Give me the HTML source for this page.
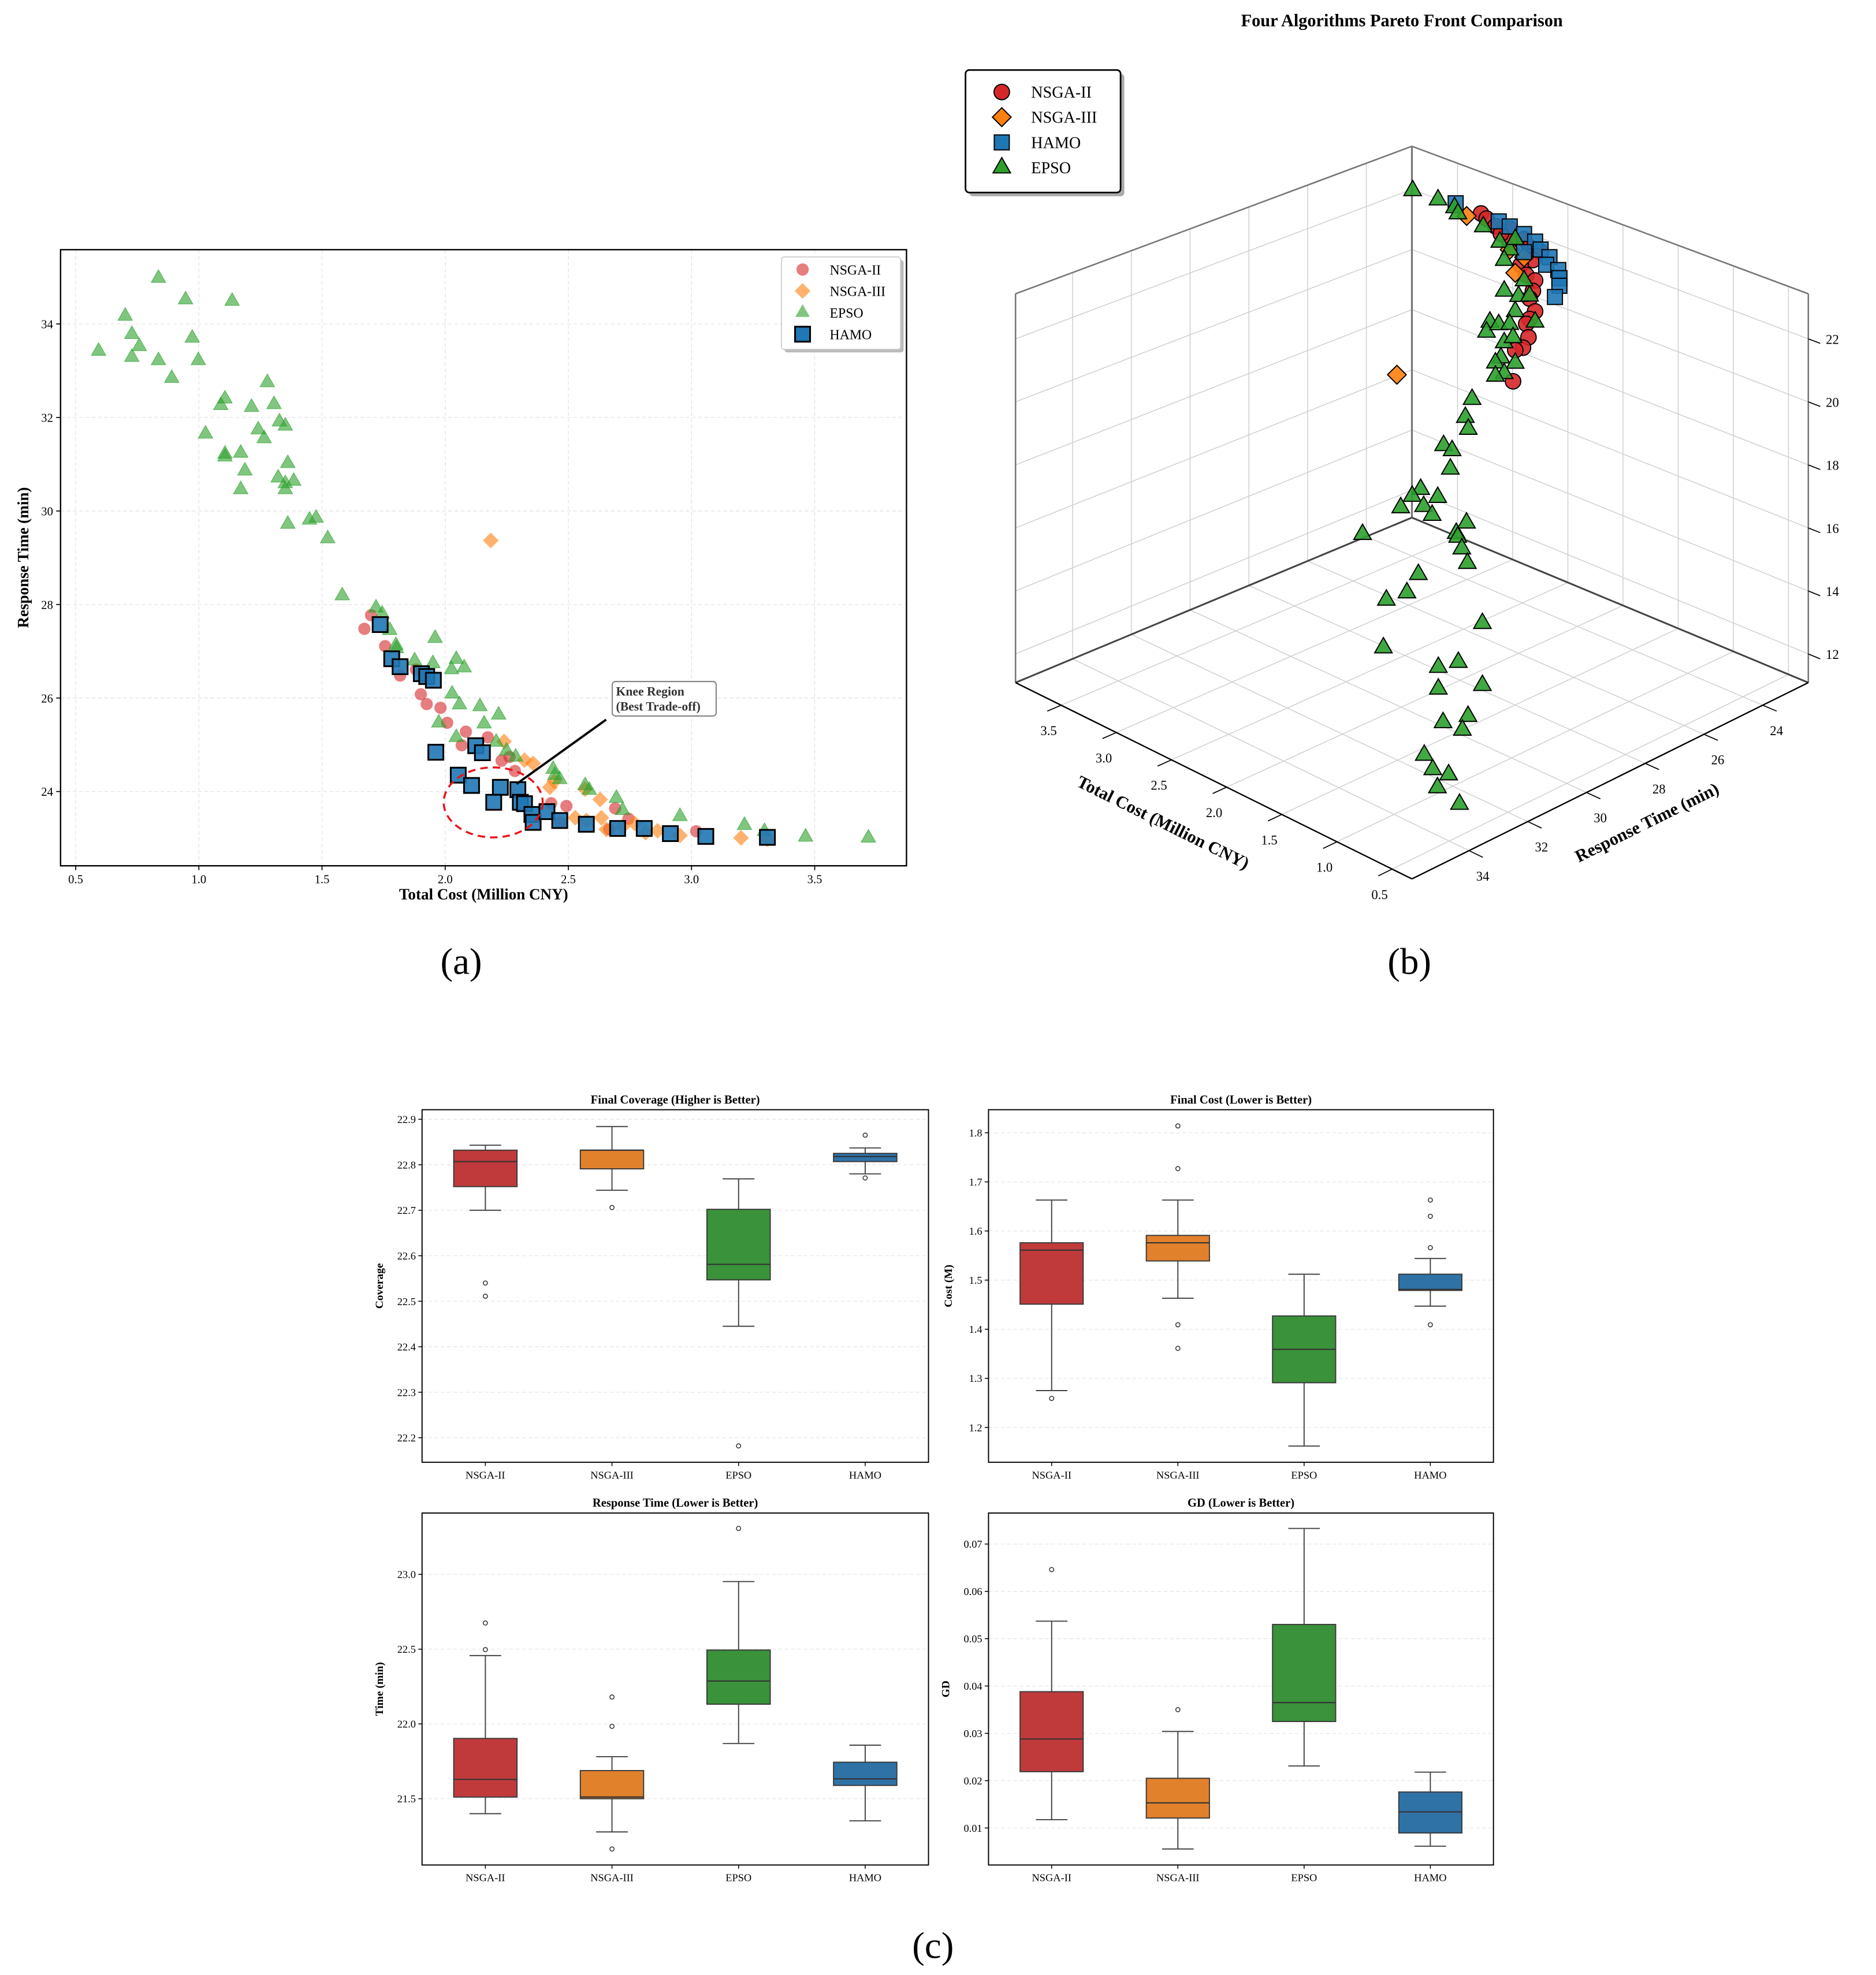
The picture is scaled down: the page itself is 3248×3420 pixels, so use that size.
<!DOCTYPE html>
<html><head><meta charset="utf-8"><style>
html,body{margin:0;padding:0;background:#fff}
svg{display:block;font-family:"Liberation Serif","DejaVu Serif",serif}
</style></head><body>
<svg id="fig" xmlns="http://www.w3.org/2000/svg" width="3248" height="3420" viewBox="0 0 1500 1579.7">
<rect width="1500" height="1579.7" fill="#fff"/>
</svg>
<script>
// ---------- Panel (a) data ----------
const aEpsoCost=[0.836,0.946,1.135,0.701,0.728,0.758,0.593,0.728,0.836,0.973,0.998,0.890,1.278,1.106,1.089,1.305,1.214,1.327,1.351,1.027,1.241,1.265,1.106,1.106,1.170,1.187,1.170,1.361,1.322,1.351,1.385,1.351,1.361,1.449,1.476,1.523,1.582,1.719,1.744,1.775,1.802,1.876,1.959,1.950,2.045,2.026,2.077,2.028,2.058,1.974,2.045,2.141,2.158,2.217,2.207,2.249,2.286,2.438,2.445,2.465,2.585,2.568,2.695,2.720,2.953,3.215,3.296,3.463,3.718,1.800];
const aEpsoTime=[34.98,34.52,34.49,34.17,33.78,33.52,33.42,33.29,33.22,33.70,33.22,32.84,32.75,32.40,32.26,32.28,32.22,31.91,31.82,31.65,31.74,31.55,31.22,31.16,31.24,30.86,30.46,31.02,30.71,30.59,30.64,30.46,29.72,29.81,29.85,29.41,28.19,27.93,27.80,27.45,27.06,26.80,27.28,26.74,26.83,26.61,26.65,26.09,25.86,25.47,25.16,25.82,25.45,25.64,25.06,24.87,24.74,24.48,24.35,24.26,24.03,24.13,23.86,23.60,23.47,23.28,23.15,23.03,23.01,27.13];
const aNsga2Cost=[1.699,1.672,1.756,1.817,1.901,1.925,1.981,2.008,2.067,2.084,2.173,2.229,2.261,2.283,2.430,2.492,2.467,2.690,2.744,3.019,1.881,2.666];
const aNsga2Time=[27.77,27.48,27.11,26.48,26.08,25.87,25.79,25.47,24.99,25.28,25.16,24.66,24.74,24.44,23.75,23.69,23.34,23.64,23.42,23.15,26.61,23.19];
const aNsga3Cost=[2.185,2.239,2.322,2.357,2.425,2.443,2.568,2.629,2.654,2.634,2.720,2.769,2.813,2.862,2.953,3.201,2.528,3.308,2.573];
const aNsga3Time=[29.37,25.07,24.67,24.60,24.09,24.22,24.05,23.83,23.19,23.44,23.25,23.32,23.12,23.16,23.06,23.01,23.44,22.98,23.38];
const aHamoCost=[1.736,1.783,1.817,1.903,1.925,1.952,1.962,2.124,2.151,2.053,2.107,2.224,2.295,2.197,2.305,2.322,2.352,2.357,2.413,2.465,2.573,2.700,2.808,2.914,3.058,3.308];
const aHamoTime=[27.57,26.84,26.67,26.52,26.46,26.38,24.84,24.98,24.83,24.35,24.13,24.09,24.04,23.77,23.77,23.74,23.51,23.34,23.57,23.38,23.30,23.21,23.21,23.10,23.04,23.02];
const aXTicks=[0.5,1.0,1.5,2.0,2.5,3.0,3.5];
const aYTicks=[24,26,28,30,32,34];

// ---------- Panel (b) data (cost, time, coverage) ----------
const bEpsoCost=[0.75,0.75,0.75,0.75,0.75,0.75,0.75,0.75,0.75,0.75,0.75,0.75,0.75,0.75,0.75,0.75,0.75,
1.40,1.40,1.40,1.40,1.40,1.40,1.40,1.40,1.40,1.40,1.40,1.40,1.40,1.40,1.40,1.40,1.40,1.40,
3.80,3.57,3.42,3.39,3.16,3.01,2.92,2.97,2.87,2.79,2.97,2.84,2.74,2.87,2.69,3.10,3.13,3.02,2.92,2.97,2.89,3.00,3.05,2.87,2.97,3.05];
const bEpsoTime=[34.11,34.5,35.2,31.93,35.3,33.43,32.75,33.43,31.93,33.27,32.42,32.61,33.91,33.62,33.08,33.46,32.71,
29.84,30.07,29.97,30.81,30.52,30.58,31.59,31.88,32.27,31.49,31.01,31.2,30.38,30.03,30.33,30.19,30.0,33.57,
22.85,22.85,22.85,22.85,22.85,22.85,22.85,22.85,22.85,22.85,22.85,22.85,22.85,22.85,22.85,22.85,22.85,22.85,22.85,22.85,22.85,22.85,22.85,22.85,22.85,22.85];
const bEpsoCov=[18.83,18.43,18.49,16.45,17.09,15.73,15.6,15.07,14.55,13.98,13.81,13.47,13.26,12.7,12.31,12.08,11.25,
21.58,21.11,20.7,20.52,20.25,19.7,19.47,19.37,19.17,18.9,18.99,18.51,17.62,17.8,17.48,17.06,16.53,18.86,
22.27,22.28,22.23,22.07,21.96,21.66,21.53,21.12,21.94,20.7,20.11,20.12,20.27,19.58,19.49,18.91,18.54,18.94,19.09,18.42,18.7,17.88,17.64,17.89,17.41,17.21];
const bNsga2Cost=[3.18,3.13,3.05,2.92,2.79,2.74,2.64,2.71,2.82,2.77,2.69,2.71,2.74,2.69,2.74,2.77,2.75,2.80,2.87,2.89,2.92,3.00];
const bNsga2Time=[22.85,22.85,22.85,22.85,22.85,22.85,22.85,22.85,22.85,22.85,22.85,22.85,22.85,22.85,22.85,22.85,22.85,22.85,22.85,22.85,22.85,22.85];
const bNsga2Cov=[22.36,22.26,22.12,22.21,22.05,21.86,21.84,21.48,21.17,20.91,20.84,20.47,20.18,19.83,19.51,19.31,18.9,18.49,18.31,17.26,21.79,21.94];
const bNsga3Cost=[1.40,3.31,2.92,2.79,2.87];
const bNsga3Time=[32.4,22.85,22.85,22.85,22.85];
const bNsga3Cov=[23.32,22.1,21.53,21.46,20.84];
const bHamoCost=[3.41,3.02,2.92,2.79,2.69,2.64,2.56,2.59,2.48,2.47,2.47,2.51,2.79];
const bHamoTime=[22.85,22.85,22.85,22.85,22.85,22.85,22.85,22.85,22.85,22.85,22.85,22.85,22.85];
const bHamoCov=[22.38,22.32,22.29,22.22,22.11,21.92,21.78,21.49,21.47,21.22,20.97,20.55,21.63];
const bCostTicks=[0.5,1.0,1.5,2.0,2.5,3.0,3.5];
const bTimeTicks=[24,26,28,30,32,34];
const bCovTicks=[12,14,16,18,20,22];

// ---------- Panel (c) data ----------
const algNames=['NSGA-II','NSGA-III','EPSO','HAMO'];
const covLow=[22.70,22.744,22.445,22.780], covQ1=[22.752,22.791,22.547,22.807], covMed=[22.807,22.832,22.581,22.818], covQ3=[22.832,22.832,22.702,22.825], covHigh=[22.843,22.884,22.769,22.837];
const covOut=[[22.54,22.511],[22.706],[22.182],[22.865,22.771]];
const costLow=[1.275,1.463,1.162,1.447], costQ1=[1.451,1.539,1.291,1.479], costMed=[1.561,1.576,1.359,1.481], costQ3=[1.576,1.591,1.427,1.512], costHigh=[1.663,1.663,1.512,1.544];
const costOut=[[1.259],[1.814,1.727,1.409,1.361],[],[1.663,1.630,1.566,1.409]];
const timeLow=[21.40,21.278,21.869,21.352], timeQ1=[21.511,21.5,22.132,21.589], timeMed=[21.629,21.511,22.287,21.633], timeQ3=[21.903,21.688,22.494,21.744], timeHigh=[22.457,21.781,22.952,21.858];
const timeOut=[[22.675,22.497],[22.18,21.984,21.164],[23.307],[]];
const gdLow=[0.01175,0.00556,0.0231,0.00615], gdQ1=[0.0219,0.0121,0.0325,0.00895], gdMed=[0.0288,0.0153,0.0365,0.0134], gdQ3=[0.0388,0.0205,0.0530,0.0176], gdHigh=[0.0537,0.0304,0.0733,0.0218];
const gdOut=[[0.0646],[0.035],[],[]];
const covTicks=[22.2,22.3,22.4,22.5,22.6,22.7,22.8,22.9];
const costTicksC=[1.2,1.3,1.4,1.5,1.6,1.7,1.8];
const timeTicksC=[21.5,22.0,22.5,23.0];
const gdTicks=[0.01,0.02,0.03,0.04,0.05,0.06,0.07];

const NS='http://www.w3.org/2000/svg';
const svg=document.getElementById('fig');
function mk(tag,attrs,parent){const e=document.createElementNS(NS,tag);for(const k in attrs)e.setAttribute(k,attrs[k]);(parent||svg).appendChild(e);return e;}
function txt(s,attrs,parent){const e=mk('text',attrs,parent);e.textContent=s;return e;}
function tri(x,y,a){return `M${x},${y-a*1.15}L${x-a},${y+a*0.6}L${x+a},${y+a*0.6}Z`;}
function dia(x,y,a){return `M${x},${y-a}L${x+a},${y}L${x},${y+a}L${x-a},${y}Z`;}

// ================= Panel (a) =================
const gA=mk('g',{});


const AL=48.3,AR=724.8,AT=199.7,AB=692.5;
const ax=c=>60.4+(c-0.5)*197.0;
const ay=t=>633.1-(t-24)*37.4;
aXTicks.forEach(v=>{
  const g=mk('line',{x1:ax(v),x2:ax(v),y1:AT,y2:AB,stroke:'#e3e3e3','stroke-width':0.6,'stroke-dasharray':'3,2'},gA);
  
  
  mk('line',{x1:ax(v),x2:ax(v),y1:AB,y2:AB+3.5,stroke:'#000','stroke-width':0.8},gA);
  const t=txt(v.toFixed(1),{x:ax(v),y:AB+14,'font-size':9.5,'text-anchor':'middle'},gA);
  
  
});
aYTicks.forEach(v=>{
  const g=mk('line',{x1:AL,x2:AR,y1:ay(v),y2:ay(v),stroke:'#e3e3e3','stroke-width':0.6,'stroke-dasharray':'3,2'},gA);
  
  
  mk('line',{x1:AL-3.5,x2:AL,y1:ay(v),y2:ay(v),stroke:'#000','stroke-width':0.8},gA);
  const t=txt(String(v),{x:AL-6,y:ay(v)+3.5,'font-size':9.5,'text-anchor':'end'},gA);
  
  
});
aNsga2Cost.forEach((c,i)=>{const m=mk('circle',{cx:ax(c),cy:ay(aNsga2Time[i]),r:4.9,fill:'#d62728','fill-opacity':0.6},gA);
  
  });
aNsga3Cost.forEach((c,i)=>{const m=mk('path',{d:dia(ax(c),ay(aNsga3Time[i]),6.3),fill:'#ff7f0e','fill-opacity':0.6},gA);
  
  });
aEpsoCost.forEach((c,i)=>{const m=mk('path',{d:tri(ax(c),ay(aEpsoTime[i]),5.8),fill:'#2ca02c','fill-opacity':0.6,stroke:'#2ca02c','stroke-opacity':0.6,'stroke-width':0.6},gA);
  
  });
aHamoCost.forEach((c,i)=>{const m=mk('rect',{x:ax(c)-6,y:ay(aHamoTime[i])-6,width:12,height:12,fill:'#1f77b4','fill-opacity':0.9,stroke:'#000','stroke-width':1.4},gA);
  
  });
const fa=mk('rect',{x:AL,y:AT,width:AR-AL,height:AB-AT,fill:'none',stroke:'#000','stroke-width':1.1},gA);


// knee
const kn=mk('ellipse',{cx:394.3,cy:641.8,rx:39.6,ry:28,fill:'none',stroke:'#e8141a','stroke-width':1.6,'stroke-dasharray':'6,4'},gA);


const ar=mk('line',{x1:484.6,y1:575.6,x2:413,y2:627,stroke:'#000','stroke-width':1.8},gA);


const kb=mk('rect',{x:489.5,y:545.1,width:83.1,height:27.6,rx:2.5,fill:'#fff',stroke:'#888','stroke-width':1},gA);


const k1=txt('Knee Region',{x:492.5,y:556.3,'font-size':10,'font-weight':'bold',fill:'#333'},gA);


const k2=txt('(Best Trade-off)',{x:492.5,y:568.3,'font-size':10,'font-weight':'bold',fill:'#333'},gA);


// legend a
const lgA=mk('g',{},gA);


mk('rect',{x:627.3,y:208,width:95.2,height:73.9,rx:2,fill:'#bbb'},lgA);
mk('rect',{x:624.8,y:205.5,width:95.2,height:73.9,rx:2,fill:'#fff',stroke:'#ccc','stroke-width':0.8},lgA);
const legNames=['NSGA-II','NSGA-III','EPSO','HAMO'];
const legY=[215.6,232.7,250,267.3];
mk('circle',{cx:641.7,cy:legY[0],r:4.9,fill:'#d62728','fill-opacity':0.6},lgA);
mk('path',{d:dia(641.7,legY[1],6.3),fill:'#ff7f0e','fill-opacity':0.6},lgA);
mk('path',{d:tri(641.7,legY[2],5.8),fill:'#2ca02c','fill-opacity':0.6},lgA);
mk('rect',{x:635.7,y:legY[3]-6,width:12,height:12,fill:'#1f77b4',stroke:'#000','stroke-width':1.4},lgA);
legNames.forEach((n,i)=>{const t=txt(n,{x:663.4,y:legY[i]+4,'font-size':11},lgA);
  
  });
const axl=txt('Total Cost (Million CNY)',{x:386.6,y:719.5,'font-size':12.5,'font-weight':'bold','text-anchor':'middle'},gA);


const ayl=txt('Response Time (min)',{x:0,y:0,'font-size':12.5,'font-weight':'bold','text-anchor':'middle',transform:'translate(22.5,446) rotate(-90)'},gA);


const la=txt('(a)',{x:368.7,y:779,'font-size':30,'text-anchor':'middle'});



// ================= Panel (b) 3D =================
const gB=mk('g',{});


function puvw(u,v,w){const x=1129+317*(v-u);const yf=703-157*(u+v)+25*u*v;const h=330-19*(u+v)+5*u*v;return [x,yf-w*h];}
const cu=c=>0.05+(c-0.5)*0.2783;
const tv=t=>0.144+(34-t)*0.0741;
const zw=z=>(z-11.09)/12.34;
function p3(c,t,z){return puvw(cu(c),tv(t),zw(z));}
function seg(a,b,st,sw,name){const l=mk('line',{x1:a[0],y1:a[1],x2:b[0],y2:b[1],stroke:st,'stroke-width':sw},gB);return l;}
// grid
bCostTicks.forEach(c=>{const u=cu(c);
  seg(puvw(u,0,0),puvw(u,1,0),'#cfcfcf',0.7,'b-floor-gridline');
  seg(puvw(u,1,0),puvw(u,1,1),'#cfcfcf',0.7,'b-wall-gridline');});
bTimeTicks.forEach(t=>{const v=tv(t);
  seg(puvw(0,v,0),puvw(1,v,0),'#cfcfcf',0.7,'b-floor-gridline');
  seg(puvw(1,v,0),puvw(1,v,1),'#cfcfcf',0.7,'b-wall-gridline');});
bCovTicks.forEach(z=>{const w=zw(z);
  seg(puvw(1,0,w),puvw(1,1,w),'#cfcfcf',0.7,'b-wall-gridline');
  seg(puvw(1,1,w),puvw(0,1,w),'#cfcfcf',0.7,'b-wall-gridline');});
// box edges
seg(puvw(1,0,1),puvw(1,1,1),'#777',1.2,'b-pane-edge');
seg(puvw(1,1,1),puvw(0,1,1),'#777',1.2,'b-pane-edge');
seg(puvw(1,0,0),puvw(1,0,1),'#777',1.2,'b-pane-edge');
seg(puvw(0,1,0),puvw(0,1,1),'#777',1.2,'b-pane-edge');
seg(puvw(1,1,0),puvw(1,1,1),'#777',1.5,'b-pane-edge');
seg(puvw(1,0,0),puvw(1,1,0),'#444',1.4,'b-floor-edge');
seg(puvw(1,1,0),puvw(0,1,0),'#444',1.4,'b-floor-edge');
seg(puvw(0,0,0),puvw(1,0,0),'#000',1.1,'b-cost-axis');
seg(puvw(0,0,0),puvw(0,1,0),'#000',1.1,'b-time-axis');
// ticks & labels
bCostTicks.forEach(c=>{const u=cu(c);const p=puvw(u,0,0);
  seg(p,puvw(u,-0.035,0),'#000',0.8,'b-cost-tick');
  const t=txt(c.toFixed(1),{x:p[0]-10,y:p[1]+24,'font-size':10.5,'text-anchor':'middle'},gB);
  
  });
bTimeTicks.forEach(tm=>{const v=tv(tm);const p=puvw(0,v,0);
  seg(p,puvw(-0.035,v,0),'#000',0.8,'b-time-tick');
  const t=txt(String(tm),{x:p[0]+11,y:p[1]+24,'font-size':10.5,'text-anchor':'middle'},gB);
  
  });
bCovTicks.forEach(z=>{const w=zw(z);const p=puvw(0,1,w);
  seg(p,puvw(-0.03,1,w),'#000',0.8,'b-coverage-tick');
  const t=txt(String(z),{x:p[0]+14,y:p[1]+4,'font-size':10.5},gB);
  
  });
const bxl=txt('Total Cost (Million CNY)',{x:0,y:0,'font-size':14,'font-weight':'bold','text-anchor':'middle',transform:'translate(928,662) rotate(26.3)'},gB);


const byl=txt('Response Time (min)',{x:0,y:0,'font-size':14,'font-weight':'bold','text-anchor':'middle',transform:'translate(1319,662) rotate(-26.3)'},gB);


// points
bNsga2Cost.forEach((c,i)=>{const p=p3(c,bNsga2Time[i],bNsga2Cov[i]);
  const m=mk('circle',{cx:p[0],cy:p[1],r:6.2,fill:'#d62728','fill-opacity':0.9,stroke:'#000','stroke-width':0.9},gB);
  
  });
bNsga3Cost.forEach((c,i)=>{const p=p3(c,bNsga3Time[i],bNsga3Cov[i]);
  const m=mk('path',{d:dia(p[0],p[1],7.5),fill:'#ff7f0e','fill-opacity':0.9,stroke:'#000','stroke-width':0.9},gB);
  
  });
bHamoCost.forEach((c,i)=>{const p=p3(c,bHamoTime[i],bHamoCov[i]);
  const m=mk('rect',{x:p[0]-6,y:p[1]-6,width:12,height:12,fill:'#1f77b4','fill-opacity':0.9,stroke:'#000','stroke-width':0.9},gB);
  
  });
bEpsoCost.forEach((c,i)=>{const p=p3(c,bEpsoTime[i],bEpsoCov[i]);
  const m=mk('path',{d:tri(p[0],p[1],7),fill:'#2ca02c','fill-opacity':0.9,stroke:'#000','stroke-width':0.9},gB);
  
  });
const bt=txt('Four Algorithms Pareto Front Comparison',{x:1121,y:21,'font-size':14,'font-weight':'bold','text-anchor':'middle'});


// legend b
const lgB=mk('g',{});


mk('rect',{x:775,y:59,width:124,height:98,rx:3,fill:'#aaa'},lgB);
mk('rect',{x:772,y:56,width:124,height:98,rx:3,fill:'#fff',stroke:'#000','stroke-width':1.3},lgB);
const lbY=[73.6,93.7,113.9,134.1];
const lbN=['NSGA-II','NSGA-III','HAMO','EPSO'];
mk('circle',{cx:801,cy:lbY[0],r:6.2,fill:'#d62728',stroke:'#000','stroke-width':0.9},lgB);
mk('path',{d:dia(801,lbY[1],7.5),fill:'#ff7f0e',stroke:'#000','stroke-width':0.9},lgB);
mk('rect',{x:795,y:lbY[2]-6,width:12,height:12,fill:'#1f77b4',stroke:'#000','stroke-width':0.9},lgB);
mk('path',{d:tri(801,lbY[3],7),fill:'#2ca02c',stroke:'#000','stroke-width':0.9},lgB);
lbN.forEach((n,i)=>{const t=txt(n,{x:824.5,y:lbY[i]+4.5,'font-size':13},lgB);
  
  });
const lb=txt('(b)',{x:1127,y:779,'font-size':30,'text-anchor':'middle'});



// ================= Panel (c) boxplots =================
const boxColors=['#c03a3c','#e1812c','#3a923a','#2f72a6'];
function boxPanel(name,L,R,T,B,vTop,vBot,ticks,fmt,lo,q1,med,q3,hi,outs,title,ylabel,ylx){
  const g=mk('g',{});
  
  
  const y=v=>T+(vTop-v)/(vTop-vBot)*(B-T);
  const bw=(R-L)/4;
  ticks.forEach(v=>{
    const gl=mk('line',{x1:L,x2:R,y1:y(v),y2:y(v),stroke:'#e6e6e6','stroke-width':0.6,'stroke-dasharray':'3,2'},g);
    
    
    mk('line',{x1:L-3,x2:L,y1:y(v),y2:y(v),stroke:'#000','stroke-width':0.7},g);
    const t=txt(fmt(v),{x:L-5,y:y(v)+3,'font-size':8.5,'text-anchor':'end'},g);
    
    
  });
  algNames.forEach((n,i)=>{
    const cx=L+(i+0.5)*bw, w=bw*0.5;
    const wl=mk('line',{x1:cx,x2:cx,y1:y(q1[i]),y2:y(lo[i]),stroke:'#444','stroke-width':0.9},g);
    
    
    const wh=mk('line',{x1:cx,x2:cx,y1:y(q3[i]),y2:y(hi[i]),stroke:'#444','stroke-width':0.9},g);
    
    
    mk('line',{x1:cx-w/4,x2:cx+w/4,y1:y(lo[i]),y2:y(lo[i]),stroke:'#444','stroke-width':0.9},g);
    mk('line',{x1:cx-w/4,x2:cx+w/4,y1:y(hi[i]),y2:y(hi[i]),stroke:'#444','stroke-width':0.9},g);
    const bx=mk('rect',{x:cx-w/2,y:y(q3[i]),width:w,height:Math.max(0.5,y(q1[i])-y(q3[i])),fill:boxColors[i],stroke:'#3a3a3a','stroke-width':0.9},g);
    
    
    const md=mk('line',{x1:cx-w/2,x2:cx+w/2,y1:y(med[i]),y2:y(med[i]),stroke:'#333','stroke-width':1},g);
    
    
    outs[i].forEach(o=>{const oc=mk('circle',{cx:cx,cy:y(o),r:1.7,fill:'none',stroke:'#333','stroke-width':0.7},g);
      
      });
    mk('line',{x1:cx,x2:cx,y1:B,y2:B+3,stroke:'#000','stroke-width':0.7},g);
    const t=txt(n,{x:cx,y:B+13,'font-size':8.5,'text-anchor':'middle'},g);
    
    
  });
  const fr=mk('rect',{x:L,y:T,width:R-L,height:B-T,fill:'none',stroke:'#000','stroke-width':0.9},g);
  
  
  const tt=txt(title,{x:(L+R)/2,y:T-5,'font-size':9.5,'font-weight':'bold','text-anchor':'middle'},g);
  
  
  const yl=txt(ylabel,{x:0,y:0,'font-size':9,'font-weight':'bold','text-anchor':'middle',transform:`translate(${ylx},${(T+B)/2}) rotate(-90)`},g);
  
  
}
boxPanel('c-coverage-boxplot',337.4,742.4,887.6,1169.6,22.921,22.146,covTicks,v=>v.toFixed(1),covLow,covQ1,covMed,covQ3,covHigh,covOut,'Final Coverage (Higher is Better)','Coverage',306);
boxPanel('c-cost-boxplot',790.4,1194.2,887.6,1169.6,1.847,1.129,costTicksC,v=>v.toFixed(1),costLow,costQ1,costMed,costQ3,costHigh,costOut,'Final Cost (Lower is Better)','Cost (M)',761);
boxPanel('c-time-boxplot',337.4,742.4,1210.2,1491.7,23.41,21.057,timeTicksC,v=>v.toFixed(1),timeLow,timeQ1,timeMed,timeQ3,timeHigh,timeOut,'Response Time (Lower is Better)','Time (min)',306);
boxPanel('c-gd-boxplot',790.4,1194.2,1210.2,1491.7,0.07655,0.00218,gdTicks,v=>v.toFixed(2),gdLow,gdQ1,gdMed,gdQ3,gdHigh,gdOut,'GD (Lower is Better)','GD',759);
const lc=txt('(c)',{x:746,y:1566,'font-size':30,'text-anchor':'middle'});


</script>
</body></html>
